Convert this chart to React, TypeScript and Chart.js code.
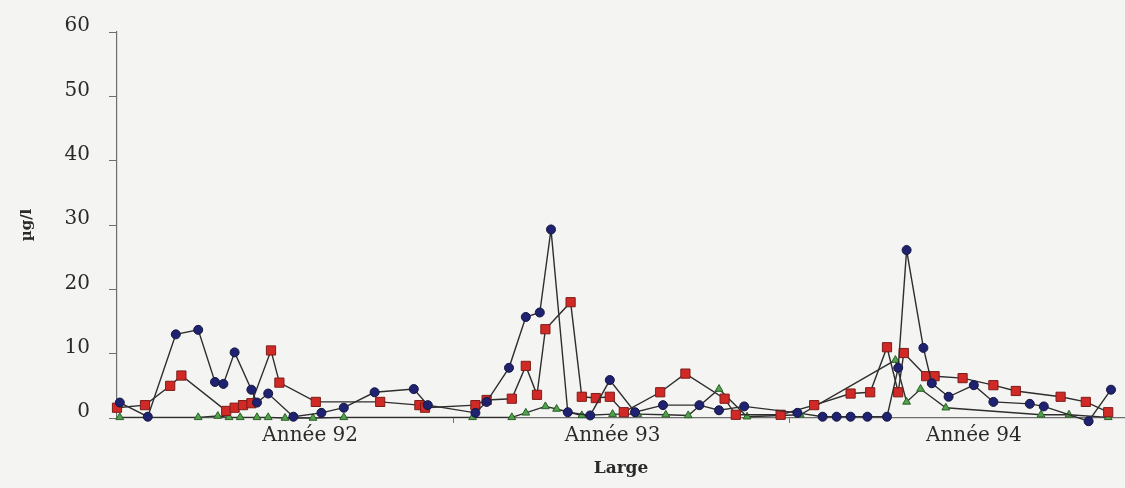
import React, { useEffect, useRef } from 'react';
import { Chart, registerables } from 'chart.js';

Chart.register(...registerables);

// Sampling dates in months from January 1992, and measured concentrations (µg/l)
const circleMonths = [0.1, 1.1, 2.1, 2.9, 3.5, 3.8, 4.2, 4.8, 5.0, 5.4, 6.3, 7.3, 8.1, 9.2, 10.6, 11.1, 12.8, 13.2, 14.0, 14.6, 15.1, 15.5, 16.1, 16.9, 17.6, 18.5, 19.5, 20.8, 21.5, 22.4, 24.3, 25.2, 25.7, 26.2, 26.8, 27.5, 27.9, 28.2, 28.8, 29.1, 29.7, 30.6, 31.3, 32.6, 33.1, 34.7, 35.5];
const circleValues = [2.4, 0.2, 13.0, 13.7, 5.6, 5.3, 10.2, 4.4, 2.4, 3.8, 0.2, 0.8, 1.6, 4.0, 4.5, 2.0, 0.8, 2.5, 7.8, 15.7, 16.4, 29.3, 0.9, 0.4, 5.9, 0.9, 2.0, 2.0, 1.2, 1.8, 0.8, 0.2, 0.2, 0.2, 0.2, 0.2, 7.8, 26.1, 10.9, 5.4, 3.3, 5.1, 2.5, 2.2, 1.8, -0.5, 4.4];

const squareMonths = [0.0, 1.0, 1.9, 2.3, 3.9, 4.2, 4.5, 4.8, 5.5, 5.8, 7.1, 9.4, 10.8, 11.0, 12.8, 13.2, 14.1, 14.6, 15.0, 15.3, 16.2, 16.6, 17.1, 17.6, 18.1, 19.4, 20.3, 21.7, 22.1, 23.7, 24.9, 26.2, 26.9, 27.5, 27.9, 28.1, 28.9, 29.2, 30.2, 31.3, 32.1, 33.7, 34.6, 35.4];
const squareValues = [1.6, 2.0, 5.0, 6.6, 1.1, 1.6, 2.0, 2.3, 10.5, 5.5, 2.5, 2.5, 2.0, 1.6, 2.0, 2.8, 3.0, 8.1, 3.6, 13.8, 18.0, 3.3, 3.1, 3.3, 0.9, 4.0, 6.9, 3.0, 0.5, 0.5, 2.0, 3.8, 4.0, 11.0, 4.0, 10.1, 6.5, 6.5, 6.2, 5.1, 4.2, 3.3, 2.5, 0.9];

const triangleMonths = [0.1, 2.9, 3.6, 4.0, 4.4, 5.0, 5.4, 6.0, 7.0, 8.1, 12.7, 14.1, 14.6, 15.3, 15.7, 16.6, 17.7, 18.6, 19.6, 20.4, 21.5, 22.5, 24.4, 27.8, 28.2, 28.7, 29.6, 33.0, 34.0, 35.4];
const triangleValues = [0.1, 0.1, 0.3, 0.1, 0.1, 0.1, 0.1, 0.0, 0.0, 0.1, 0.1, 0.1, 0.8, 1.8, 1.4, 0.4, 0.6, 0.6, 0.5, 0.4, 4.5, 0.2, 0.5, 9.0, 2.5, 4.5, 1.6, 0.5, 0.5, 0.1];

// Year labels sit between the year boundaries
const yearLabels = ['Année 92', 'Année 93', 'Année 94'];
const yearLabelMonths = [6.9, 17.7, 30.6];
const yearBoundaries = [12, 24];

const yMin = 0;
const yMax = 60;
const yStep = 10;

const serif = '"DejaVu Serif", "Liberation Serif", serif';
const lineColor = '#2e2e2e';
const axisColor = '#6e6e6e';
const textColor = '#2a2a2a';

const toPoints = (xs: number[], ys: number[]) => xs.map((x, i) => ({ x, y: ys[i] }));

const paperBackground = {
  id: 'paperBackground',
  beforeDraw(chart: Chart) {
    const { ctx, width, height } = chart;
    ctx.save();
    ctx.fillStyle = '#f4f4f2';
    ctx.fillRect(0, 0, width, height);
    ctx.restore();
  },
};

export default function App() {
  const canvasRef = useRef<HTMLCanvasElement | null>(null);

  useEffect(() => {
    if (!canvasRef.current) return;

    const xTickValues = [...yearLabelMonths, ...yearBoundaries].sort((a, b) => a - b);
    const labelFor = (v: number) => {
      const i = yearLabelMonths.indexOf(v);
      return i >= 0 ? yearLabels[i] : '';
    };

    const chart = new Chart(canvasRef.current, {
      type: 'scatter',
      data: {
        datasets: [
          {
            label: 'circles',
            data: toPoints(circleMonths, circleValues),
            showLine: true,
            borderColor: lineColor,
            borderWidth: 1.4,
            pointStyle: 'circle',
            pointRadius: 4.5,
            pointBackgroundColor: '#1f2270',
            pointBorderColor: '#14163f',
            pointBorderWidth: 1,
            clip: false,
            order: 1,
          },
          {
            label: 'squares',
            data: toPoints(squareMonths, squareValues),
            showLine: true,
            borderColor: lineColor,
            borderWidth: 1.4,
            pointStyle: 'rect',
            pointRadius: 6.5,
            pointBackgroundColor: '#d12a26',
            pointBorderColor: '#7c1c18',
            pointBorderWidth: 1,
            clip: false,
            order: 2,
          },
          {
            label: 'triangles',
            data: toPoints(triangleMonths, triangleValues),
            showLine: true,
            borderColor: lineColor,
            borderWidth: 1.4,
            pointStyle: 'triangle',
            pointRadius: 4.5,
            pointBackgroundColor: '#4fa34a',
            pointBorderColor: '#2d5e2a',
            pointBorderWidth: 1,
            clip: false,
            order: 3,
          },
        ],
      },
      options: {
        responsive: false,
        animation: false,
        layout: { autoPadding: false, padding: { top: 32, right: 0, bottom: 0, left: 0 } },
        plugins: {
          legend: { display: false },
          tooltip: { enabled: false },
        },
        scales: {
          x: {
            type: 'linear',
            min: 0,
            max: 36,
            afterBuildTicks: (scale: any) => {
              scale.ticks = xTickValues.map((value) => ({ value }));
            },
            afterFit: (scale: any) => {
              scale.height = 70;
              scale.paddingLeft = 0;
              scale.paddingRight = 0;
            },
            ticks: {
              autoSkip: false,
              maxRotation: 0,
              padding: 1,
              color: textColor,
              font: { family: serif, size: 20 },
              callback: (value: any) => labelFor(Number(value)),
            },
            grid: {
              drawOnChartArea: false,
              tickLength: 5,
              color: (ctx: any) =>
                ctx.tick && yearBoundaries.includes(ctx.tick.value) ? axisColor : 'rgba(0,0,0,0)',
            },
            border: { display: true, color: axisColor, width: 1.2 },
            title: {
              display: true,
              text: 'Large',
              color: textColor,
              font: { family: serif, size: 17, weight: 'bold' },
              padding: { top: 0, bottom: 9 },
            },
          },
          y: {
            min: yMin,
            max: yMax,
            afterFit: (scale: any) => {
              scale.width = 117;
              scale.paddingTop = 0;
              scale.paddingBottom = 0;
            },
            ticks: {
              stepSize: yStep,
              padding: 19,
              labelOffset: -6,
              color: textColor,
              font: { family: serif, size: 20 },
            },
            grid: {
              drawOnChartArea: false,
              tickLength: 8,
              color: axisColor,
            },
            border: { display: true, color: axisColor, width: 1.2 },
            title: {
              display: true,
              text: 'µg/l',
              color: textColor,
              font: { family: serif, size: 15, weight: 'bold' },
              padding: { top: 18, bottom: 0 },
            },
          },
        },
      },
      plugins: [paperBackground],
    });

    return () => chart.destroy();
  }, []);

  return (
    <div style={{ position: 'fixed', left: 0, top: 0, width: 1125, height: 488, background: '#f4f4f2' }}>
      <canvas ref={canvasRef} width={1125} height={488} style={{ display: 'block' }} />
    </div>
  );
}
